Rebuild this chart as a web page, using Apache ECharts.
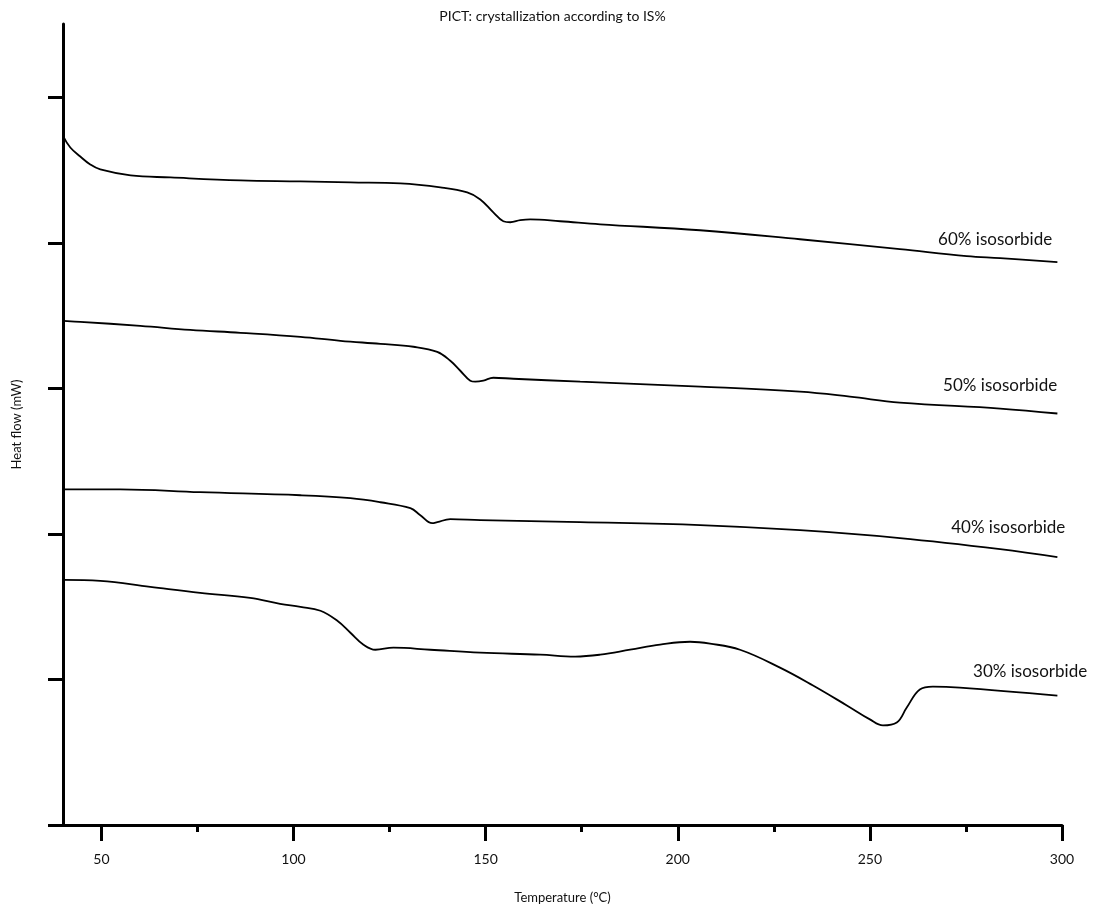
<!DOCTYPE html>
<html>
<head>
<meta charset="utf-8">
<script src="https://cdn.jsdelivr.net/npm/echarts@6/dist/echarts.min.js"></script>
<style>html,body{margin:0;padding:0;background:#fff}#c{width:1105px;height:909px}</style>
</head>
<body>
<div id="c"></div>
<script>
// ---- data (Temperature °C, Heat flow in tick units) ----
const seriesNames = ['60% isosorbide', '50% isosorbide', '40% isosorbide', '30% isosorbide'];
const s60 = [[40.1,4.733],[41.9,4.658],[44.5,4.596],[47.1,4.541],[49.7,4.507],[57.6,4.466],[68,4.452],[86.2,4.432],[101.8,4.425],[114.8,4.418],[127.8,4.411],[138.2,4.384],[145.2,4.349],[148.6,4.301],[152,4.212],[154.6,4.151],[156.4,4.144],[159,4.158],[161.6,4.164],[169.4,4.151],[179.8,4.130],[205.8,4.089],[231.8,4.027],[257.8,3.959],[275.2,3.911],[283.9,3.897],[298.8,3.870]];
const s50 = [[40.1,3.466],[44.5,3.459],[60.1,3.432],[73.1,3.404],[86.2,3.384],[101.8,3.356],[112.2,3.329],[122.6,3.308],[131.2,3.288],[137.4,3.253],[140.8,3.192],[143.4,3.123],[146,3.055],[147.3,3.048],[149.4,3.055],[152,3.075],[157.2,3.068],[174.6,3.048],[205.8,3.014],[231.8,2.979],[244.8,2.945],[257.8,2.904],[283.9,2.863],[298.8,2.829]];
const s40 = [[40.1,2.308],[54.9,2.308],[75.7,2.288],[101.8,2.267],[114.8,2.247],[122.6,2.219],[130.4,2.178],[133,2.130],[136.1,2.075],[137.4,2.082],[140.8,2.103],[148.6,2.096],[174.6,2.082],[205.8,2.062],[231.8,2.027],[257.8,1.973],[283.9,1.897],[298.8,1.842]];
const s30 = [[40.1,1.685],[49.7,1.678],[62.7,1.637],[75.7,1.596],[88.7,1.562],[96.5,1.521],[101.8,1.500],[107,1.473],[111.4,1.404],[114.8,1.322],[118.2,1.240],[121.3,1.205],[126,1.219],[135.6,1.205],[148.6,1.185],[164.2,1.171],[173.3,1.158],[179.8,1.171],[187.6,1.205],[195.4,1.240],[203.2,1.260],[208.4,1.247],[216.2,1.205],[226.6,1.082],[235.2,0.959],[244,0.822],[250,0.726],[253.4,0.685],[257,0.705],[259.6,0.808],[263,0.932],[266.4,0.952],[273.4,0.945],[298.8,0.890]];
const xMajorTicks = [50, 100, 150, 200, 250, 300];
const xMinorTicks = [75, 125, 175, 225, 275];
const yTicks = [0, 1, 2, 3, 4, 5];
// label anchors (data coordinates)
const labelAnchors = [[282.6,4.027],[283.9,3.021],[286,2.048],[291.7,1.055]];

const FONT = 'Lato, "Open Sans", sans-serif';
const allData = [s60, s50, s40, s30];

const chart = echarts.init(document.getElementById('c'), null, {renderer: 'canvas'});
const series = allData.map((d, i) => ({
  name: seriesNames[i],
  type: 'line',
  data: d,
  smooth: 0.4,
  showSymbol: false,
  symbol: 'none',
  lineStyle: {color: '#000', width: 1.8},
  silent: true,
  markPoint: {
    symbol: 'circle',
    symbolSize: 1,
    itemStyle: {color: 'rgba(0,0,0,0)'},
    label: {show: true, position: 'inside', formatter: seriesNames[i], color: '#111', fontSize: 17, fontFamily: FONT},
    data: [{coord: labelAnchors[i]}]
  }
}));

chart.setOption({
  animation: false,
  backgroundColor: '#fff',
  title: {
    text: 'PICT: crystallization according to IS%',
    left: 'center', top: 4,
    textStyle: {fontSize: 14, fontWeight: 'normal', color: '#111', fontFamily: FONT}
  },
  grid: {left: 63, right: 43, top: 24, bottom: 80, containLabel: false},
  xAxis: [{
    type: 'value', min: 40, max: 300,
    name: 'Temperature (°C)', nameLocation: 'middle', nameGap: 66,
    nameTextStyle: {fontSize: 13, color: '#111', fontFamily: FONT},
    axisLine: {show: true, lineStyle: {color: '#000', width: 3}},
    axisTick: {show: true, length: 16, lineStyle: {color: '#000', width: 3}, customValues: xMajorTicks},
    axisLabel: {show: true, margin: 27, fontSize: 14, color: '#111', fontFamily: FONT, customValues: xMajorTicks},
    splitLine: {show: false}
  }, {
    type: 'value', min: 40, max: 300, position: 'bottom',
    axisLine: {show: false},
    axisTick: {show: true, length: 7, lineStyle: {color: '#000', width: 3}, customValues: xMinorTicks},
    axisLabel: {show: false},
    splitLine: {show: false}
  }],
  yAxis: {
    type: 'value', min: 0, max: 5.507,
    name: 'Heat flow (mW)', nameLocation: 'middle', nameGap: 40,
    nameTextStyle: {fontSize: 13, color: '#111', fontFamily: FONT},
    axisLine: {show: true, lineStyle: {color: '#000', width: 3}},
    axisTick: {show: true, length: 15, lineStyle: {color: '#000', width: 3}, customValues: yTicks},
    axisLabel: {show: false},
    splitLine: {show: false}
  },
  series: series
});
</script>
</body>
</html>
